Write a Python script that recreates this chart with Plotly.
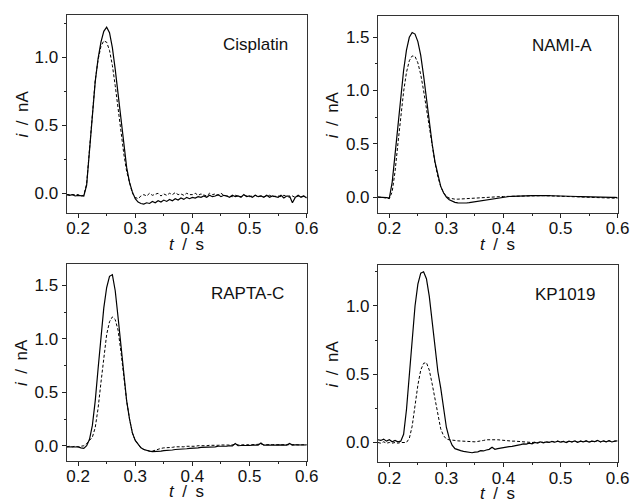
import plotly.graph_objects as go

# time grid (s), shared by all traces
t = [0.180, 0.185, 0.190, 0.195, 0.200, 0.205, 0.210, 0.215, 0.220, 0.225,
     0.230, 0.235, 0.240, 0.245, 0.250, 0.255, 0.260, 0.265, 0.270, 0.275,
     0.280, 0.285, 0.290, 0.295, 0.300, 0.305, 0.310, 0.315, 0.320, 0.325,
     0.330, 0.335, 0.340, 0.345, 0.350, 0.355, 0.360, 0.365, 0.370, 0.375,
     0.380, 0.385, 0.390, 0.395, 0.400, 0.405, 0.410, 0.415, 0.420, 0.425,
     0.430, 0.435, 0.440, 0.445, 0.450, 0.455, 0.460, 0.465, 0.470, 0.475,
     0.480, 0.485, 0.490, 0.495, 0.500, 0.505, 0.510, 0.515, 0.520, 0.525,
     0.530, 0.535, 0.540, 0.545, 0.550, 0.555, 0.560, 0.565, 0.570, 0.575,
     0.580, 0.585, 0.590, 0.595, 0.600]

cis_solid = [-0.01, -0.015, -0.01, -0.02, -0.015, -0.02, -0.02, 0.06, 0.32, 0.60,
             0.82, 0.99, 1.11, 1.19, 1.22, 1.18, 1.07, 0.91, 0.72, 0.52,
             0.34, 0.19, 0.08, 0.01, -0.04, -0.065, -0.075, -0.08, -0.07, -0.075,
             -0.06, -0.07, -0.055, -0.065, -0.05, -0.06, -0.045, -0.055, -0.04, -0.05,
             -0.035, -0.045, -0.03, -0.04, -0.03, -0.035, -0.025, -0.03, -0.02, -0.03,
             -0.015, -0.025, -0.02, -0.01, -0.025, -0.015, -0.02, -0.03, -0.015, -0.025,
             -0.02, -0.03, -0.01, -0.025, -0.02, -0.03, -0.015, -0.025, -0.02, -0.03,
             -0.015, -0.03, -0.02, -0.025, -0.03, -0.015, -0.035, -0.02, -0.02, -0.07,
             -0.03, -0.015, -0.03, -0.02, -0.035]
cis_dash = [-0.01, -0.01, -0.015, -0.015, -0.01, -0.02, -0.015, 0.07, 0.34, 0.61,
            0.83, 0.98, 1.08, 1.12, 1.11, 1.05, 0.94, 0.79, 0.62, 0.45,
            0.29, 0.16, 0.07, 0.0, -0.03, -0.04, -0.02, -0.01, -0.02, 0.0,
            -0.015, -0.01, 0.0, -0.02, -0.005, -0.015, 0.0, -0.01, 0.005, -0.01,
            -0.005, -0.015, 0.0, -0.01, -0.01, 0.0, -0.015, -0.005, -0.01, -0.02,
            0.0, -0.01, -0.005, -0.015, 0.0, -0.015, -0.02, -0.02, -0.025, -0.015,
            -0.02, -0.025, -0.015, -0.02, -0.025, -0.02, -0.015, -0.025, -0.02, -0.025,
            -0.02, -0.015, -0.025, -0.02, -0.02, -0.025, -0.015, -0.02, -0.03, -0.02,
            -0.03, -0.02, -0.025, -0.02, -0.03]

nami_solid = [0.0, 0.0, 0.0, -0.005, -0.01, 0.14, 0.40, 0.68, 0.95, 1.19,
              1.38, 1.50, 1.545, 1.53, 1.46, 1.33, 1.14, 0.92, 0.70, 0.50,
              0.33, 0.20, 0.10, 0.04, 0.0, -0.025, -0.04, -0.05, -0.055, -0.057,
              -0.058, -0.056, -0.053, -0.049, -0.045, -0.04, -0.035, -0.03, -0.025, -0.02,
              -0.015, -0.01, -0.006, -0.003, 0.0, 0.003, 0.005, 0.007, 0.009, 0.01,
              0.011, 0.012, 0.013, 0.013, 0.014, 0.014, 0.015, 0.015, 0.014, 0.014,
              0.013, 0.012, 0.012, 0.011, 0.01, 0.009, 0.008, 0.008, 0.007, 0.006,
              0.005, 0.004, 0.004, 0.003, 0.002, 0.001, 0.0, 0.0, -0.001, -0.002,
              -0.002, -0.003, -0.003, -0.004, -0.005]
nami_dash = [0.0, 0.0, -0.005, -0.01, -0.015, 0.05, 0.24, 0.50, 0.76, 0.99,
             1.17, 1.28, 1.325, 1.32, 1.26, 1.15, 1.00, 0.83, 0.65, 0.48,
             0.32, 0.19, 0.10, 0.04, 0.005, -0.01, -0.018, -0.02, -0.02, -0.018,
             -0.016, -0.014, -0.012, -0.01, -0.008, -0.006, -0.005, -0.003, -0.002, 0.0,
             0.001, 0.002, 0.003, 0.004, 0.005, 0.006, 0.007, 0.008, 0.009, 0.01,
             0.011, 0.012, 0.012, 0.013, 0.013, 0.013, 0.014, 0.013, 0.013, 0.012,
             0.011, 0.01, 0.01, 0.009, 0.008, 0.007, 0.006, 0.005, 0.004, 0.003,
             0.002, 0.001, 0.0, -0.001, -0.002, -0.003, -0.004, -0.005, -0.006, -0.007,
             -0.008, -0.009, -0.01, -0.011, -0.012]

rapta_solid = [-0.01, -0.01, -0.012, -0.01, -0.012, -0.02, -0.025, 0.0, 0.06, 0.19,
               0.42, 0.72, 1.02, 1.29, 1.48, 1.585, 1.60, 1.45, 1.20, 0.92,
               0.65, 0.42, 0.25, 0.12, 0.05, 0.01, -0.02, -0.035, -0.045, -0.05,
               -0.055, -0.055, -0.05, -0.05, -0.045, -0.045, -0.04, -0.04, -0.035, -0.035,
               -0.03, -0.03, -0.028, -0.025, -0.025, -0.02, -0.02, -0.015, -0.015, -0.01,
               -0.012, -0.008, -0.01, -0.005, -0.006, -0.003, -0.005, 0.0, -0.002, 0.02,
               0.0, 0.002, 0.0, 0.004, 0.002, 0.005, 0.003, 0.006, 0.025, 0.005,
               0.006, 0.004, 0.007, 0.005, 0.008, 0.006, 0.008, 0.006, 0.022, 0.006,
               0.008, 0.006, 0.009, 0.007, 0.008]
rapta_dash = [-0.01, -0.005, -0.01, -0.005, -0.01, -0.005, 0.0, 0.02, 0.05, 0.08,
              0.17, 0.35, 0.59, 0.84, 1.04, 1.16, 1.205, 1.18, 1.08, 0.88,
              0.64, 0.42, 0.25, 0.12, 0.05, 0.01, -0.02, -0.035, -0.045, -0.05,
              -0.05, -0.04, -0.03, -0.025, -0.02, -0.02, -0.015, -0.015, -0.01, -0.012,
              -0.008, -0.01, -0.005, -0.007, -0.003, -0.005, 0.0, -0.002, 0.002, 0.0,
              0.004, 0.002, 0.006, 0.004, 0.007, 0.005, 0.008, 0.006, 0.009, 0.014,
              0.007, 0.009, 0.007, 0.01, 0.008, 0.01, 0.008, 0.011, 0.015, 0.009,
              0.011, 0.009, 0.011, 0.009, 0.01, 0.008, 0.01, 0.008, 0.012, 0.009,
              0.01, 0.008, 0.01, 0.009, 0.01]

kp_solid = [0.02, 0.015, 0.025, 0.01, 0.02, 0.005, 0.015, 0.005, 0.01, 0.06,
            0.24, 0.48, 0.77, 1.00, 1.16, 1.24, 1.25, 1.20, 1.07, 0.90,
            0.71, 0.52, 0.40, 0.24, 0.11, 0.03, -0.02, -0.045, -0.055, -0.06,
            -0.065, -0.07, -0.072, -0.075, -0.07, -0.068, -0.06, -0.062, -0.055, -0.05,
            -0.035, -0.05, -0.045, -0.04, -0.04, -0.035, -0.03, -0.028, -0.022, -0.02,
            -0.015, -0.01, -0.012, -0.005, -0.01, 0.0, -0.005, 0.005, -0.002, 0.004,
            0.0, 0.008, 0.002, 0.01, 0.003, 0.008, 0.0, 0.01, 0.004, 0.012,
            0.002, 0.01, 0.005, 0.012, 0.003, 0.01, 0.006, 0.015, 0.004, 0.012,
            0.005, 0.013, 0.004, 0.01, 0.012]
kp_dash = [0.0, -0.005, 0.005, -0.005, 0.0, -0.005, 0.0, -0.005, 0.0, -0.002,
           0.0, 0.03, 0.12, 0.27, 0.42, 0.53, 0.58, 0.585, 0.53, 0.43,
           0.31, 0.19, 0.10, 0.05, 0.025, 0.02, 0.015, 0.015, 0.012, 0.01,
           0.01, 0.008, 0.005, 0.005, 0.005, 0.008, 0.01, 0.015, 0.02, 0.02,
           0.025, 0.02, 0.02, 0.018, 0.015, 0.015, 0.012, 0.01, 0.01, 0.008,
           0.005, 0.005, 0.003, 0.003, 0.0, 0.002, 0.0, 0.005, 0.0, 0.004,
           0.002, 0.008, 0.003, 0.01, 0.003, 0.008, 0.002, 0.01, 0.004, 0.012,
           0.002, 0.01, 0.005, 0.012, 0.003, 0.01, 0.006, 0.015, 0.004, 0.012,
           0.005, 0.013, 0.004, 0.01, 0.012]

panels = [
    ("Cisplatin", cis_solid, cis_dash),
    ("NAMI-A", nami_solid, nami_dash),
    ("RAPTA-C", rapta_solid, rapta_dash),
    ("KP1019", kp_solid, kp_dash),
]

FONT = "Liberation Sans, Arial, sans-serif"
W, H = 644, 499
SP = "\u2002"  # en space, the reference titles are loosely spaced

# pixel boxes of the four plot areas (left, top, right, bottom)
boxes = [(67, 15, 312, 213), (384.7, 16, 629.3, 213),
         (67, 264, 312, 460.7), (384.7, 265, 629.3, 462.3)]
y_ranges = [(-0.145, 1.31), (-0.15, 1.70), (-0.14, 1.70), (-0.145, 1.30)]
# centre of the compound label in each panel, pixels
name_pos = [(259.5, 45), (572.7, 46), (252, 293), (576.5, 294)]


def axis(domain, range, dtick, anchor, standoff):
    return dict(
        domain=domain, range=range, anchor=anchor,
        dtick=dtick, tick0=0, ticks="outside", ticklen=4, tickwidth=1,
        tickcolor="#222", showline=True, linecolor="#333", linewidth=1, mirror=True,
        showgrid=False, zeroline=False, tickformat=".1f", ticklabelstandoff=standoff,
        tickfont=dict(family=FONT, size=17, color="#111"),
        minor=dict(dtick=dtick / 2, ticks="outside", ticklen=2, tickcolor="#222"),
    )


def label(text, x, y, angle=0):
    return dict(text=text, xref="paper", yref="paper", x=x / W, y=1 - y / H,
                xanchor="center", yanchor="middle", textangle=angle, showarrow=False,
                font=dict(family=FONT, size=17, color="#111"))


fig = go.Figure()
# width follows the window so the page is never wider than the viewport
layout = dict(
    autosize=True, height=H, margin=dict(l=0, r=0, t=0, b=0),
    plot_bgcolor="white", paper_bgcolor="white", showlegend=False,
)
annotations = []

for n, ((name, solid, dash), (l, top, r, b), yr, (nx, ny)) in enumerate(
        zip(panels, boxes, y_ranges, name_pos)):
    i = "" if n == 0 else str(n + 1)
    layout["xaxis" + i] = axis([l / W, r / W], [0.18, 0.6], 0.1, "y" + i, -4)
    layout["yaxis" + i] = axis([1 - b / H, 1 - top / H], list(yr), 0.5, "x" + i, 0)

    fig.add_trace(go.Scatter(x=t, y=dash, mode="lines", xaxis="x" + i, yaxis="y" + i,
                             line=dict(color="black", width=1, dash="3px,2px")))
    fig.add_trace(go.Scatter(x=t, y=solid, mode="lines", xaxis="x" + i, yaxis="y" + i,
                             line=dict(color="black", width=1.2)))

    annotations += [
        label(name, nx, ny),
        label(f"<i>t</i>{SP}/{SP}s", (l + r) / 2, b + 31),
        label(f"<i>i</i>{SP}/{SP}nA", l - 46, (top + b) / 2, -90),
    ]

layout["annotations"] = annotations
fig.update_layout(**layout)

fig.write_html(
    "out.html",
    config={"displayModeBar": False, "responsive": True},
    default_width="100%",
    default_height=f"{H}px",
    post_script=("document.documentElement.style.overflow = 'hidden';"
                 "document.body.style.margin = '0px';"
                 "document.body.style.overflow = 'hidden';"
                 "Plotly.Plots.resize(document.getElementById('{plot_id}'));"),
)
